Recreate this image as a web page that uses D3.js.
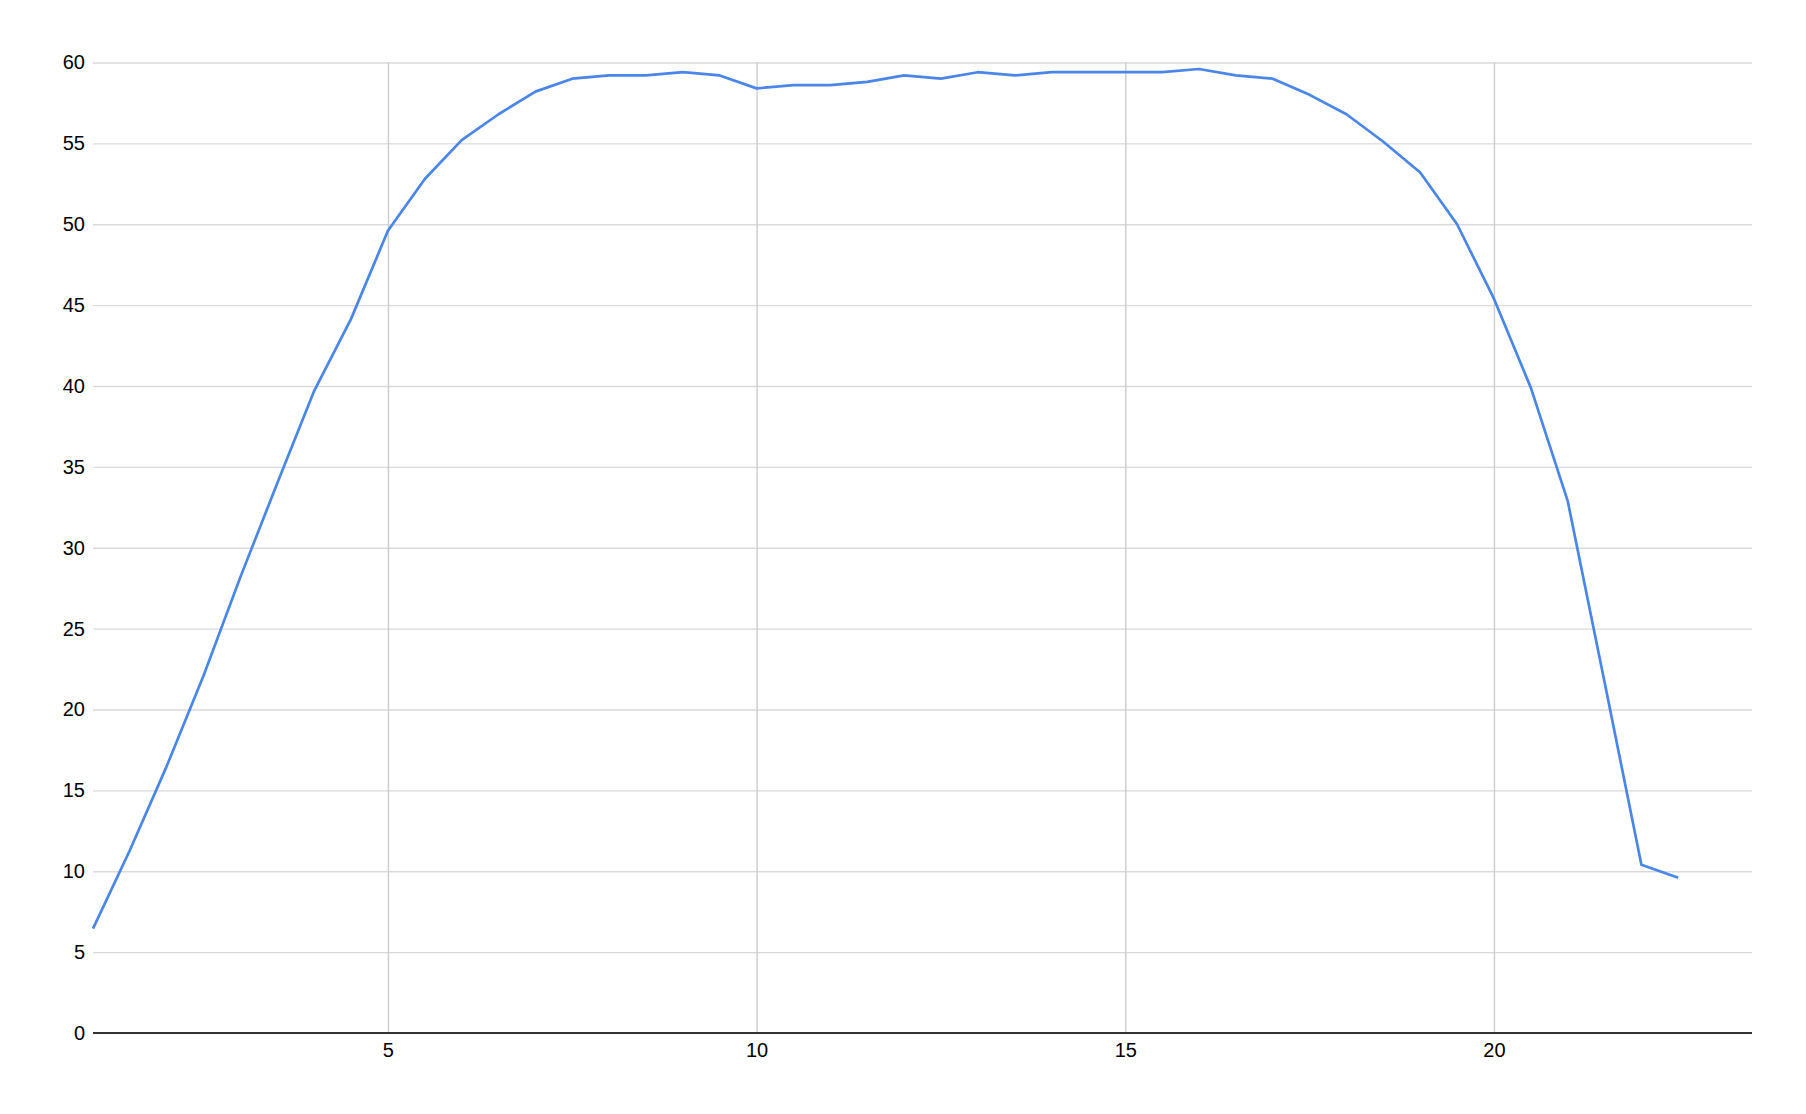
<!DOCTYPE html>
<html>
<head>
<meta charset="utf-8">
<script src="https://cdn.jsdelivr.net/npm/d3@7"></script>
<style>
  html, body { margin: 0; padding: 0; background: #fff; }
  svg { display: block; font-family: Arial, "Liberation Sans", sans-serif; }
</style>
</head>
<body>
<svg id="chart" width="1806" height="1114"></svg>
<script>
const xValues = [1, 1.5, 2, 2.5, 3, 3.5, 4, 4.5, 5, 5.5, 6, 6.5, 7, 7.5, 8, 8.5, 9, 9.5, 10, 10.5,
  11, 11.5, 12, 12.5, 13, 13.5, 14, 14.5, 15, 15.5, 16, 16.5, 17, 17.5, 18, 18.5, 19, 19.5, 20, 20.5,
  21, 21.5, 22, 22.5];
const yValues = [6.45, 11.3, 16.5, 22.1, 28.2, 34.0, 39.7, 44.15, 49.6, 52.8, 55.2, 56.8, 58.2, 59.0, 59.2, 59.2, 59.4, 59.2, 58.4, 58.6,
  58.6, 58.8, 59.2, 59.0, 59.4, 59.2, 59.4, 59.4, 59.4, 59.4, 59.6, 59.2, 59.0, 58.0, 56.8, 55.1, 53.2, 50.0, 45.4, 39.9,
  32.9, 21.7, 10.4, 9.6];
const xTicks = [5, 10, 15, 20];
const yTicks = [0, 5, 10, 15, 20, 25, 30, 35, 40, 45, 50, 55, 60];
const xDomain = [1, 23.5];
const yDomain = [0, 60];

const svg = d3.select("#chart");
const margin = { left: 93, right: 54, top: 62.5, bottom: 81 };
const W = 1806, H = 1114;
const x = d3.scaleLinear().domain(xDomain).range([margin.left, W - margin.right]);
const y = d3.scaleLinear().domain(yDomain).range([H - margin.bottom, margin.top]);

// horizontal gridlines + y labels
const yAxis = svg.append("g")
  .attr("transform", `translate(${margin.left},0)`)
  .call(d3.axisLeft(y).tickValues(yTicks).tickSize(-(W - margin.left - margin.right)).tickPadding(9).tickFormat(d3.format("d")));
yAxis.select(".domain").remove();
yAxis.selectAll(".tick line").attr("stroke", "#d9d9d9").attr("stroke-width", 1.4);
yAxis.selectAll(".tick text").attr("fill", "#000").attr("font-size", "20px").attr("x", -8);

// vertical gridlines + x labels
const xAxis = svg.append("g")
  .attr("transform", `translate(0,${H - margin.bottom})`)
  .call(d3.axisBottom(x).tickValues(xTicks).tickSize(-(H - margin.top - margin.bottom)).tickPadding(12).tickFormat(d3.format("d")));
xAxis.select(".domain").remove();
xAxis.selectAll(".tick line").attr("stroke", "#cccccc").attr("stroke-width", 1.4);
xAxis.selectAll(".tick text").attr("fill", "#000").attr("font-size", "20px").attr("y", 10);

// baseline
svg.append("line")
  .attr("x1", margin.left).attr("x2", W - margin.right)
  .attr("y1", y(0)).attr("y2", y(0))
  .attr("stroke", "#333333").attr("stroke-width", 2);

// data line
const data = xValues.map((v, i) => [v, yValues[i]]);
svg.append("path")
  .datum(data)
  .attr("fill", "none")
  .attr("stroke", "#4a86e8")
  .attr("stroke-width", 2.7)
  .attr("stroke-linejoin", "round")
  .attr("d", d3.line().x(d => x(d[0])).y(d => y(d[1])));
</script>
</body>
</html>
